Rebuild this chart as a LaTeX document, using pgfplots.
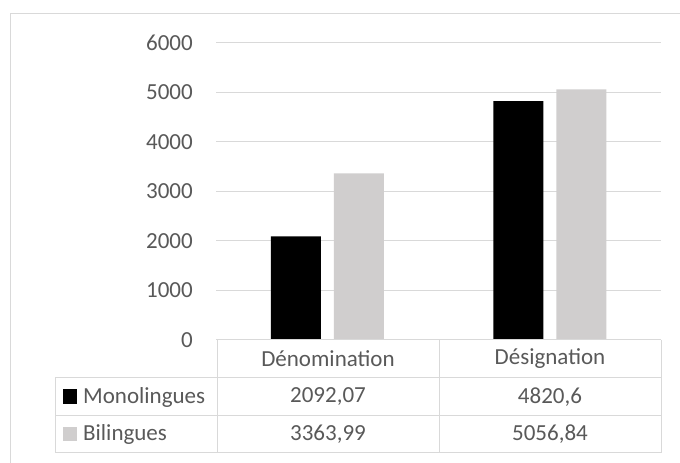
\documentclass[border=0pt]{standalone}
\usepackage{fontspec}
\setmainfont{Carlito}
\usepackage{pgfplots}
\pgfplotsset{compat=1.18}
\definecolor{gridc}{HTML}{D9D9D9}
\definecolor{txt}{HTML}{595959}
\definecolor{lgray}{HTML}{D0CECE}
\newcommand{\ff}{\fontsize{23}{27}\selectfont}
\begin{document}
\begin{tikzpicture}[x=1pt,y=1pt]
\useasboundingbox (0,0) rectangle (680,463);
\fill[white] (0,0) rectangle (680,463);
\draw[gridc, line width=1pt] (10,0) -- (10,449.5) -- (681,449.5);
\begin{axis}[
  at={(216pt,123pt)}, anchor=south west,
  scale only axis, width=445pt, height=297.3pt,
  xmin=-0.5, xmax=1.5, ymin=0, ymax=6000,
  ytick={0,1000,...,6000}, xtick=\empty,
  ymajorgrids, grid style={gridc, line width=1pt},
  axis line style={draw=none}, major tick length=0pt,
  /pgf/number format/.cd, set thousands separator={}, assume math mode=true,
  /pgfplots/.cd,
  yticklabel style={text=txt, font=\ff, anchor=east, inner sep=0pt, xshift=-23pt},
  ybar=13pt, bar width=50pt,
]
\addplot[fill=black, draw=none] coordinates {(0,2092.07) (1,4820.6)};
\addplot[fill=lgray, draw=none] coordinates {(0,3363.99) (1,5056.84)};
\end{axis}
% data table
\draw[gridc, line width=1pt]
  (217,123) -- (661,123)
  (55,85) -- (661,85)
  (55,47) -- (661,47)
  (55,10) -- (661,10)
  (55,85) -- (55,10)
  (217,123) -- (217,10)
  (439,123) -- (439,10)
  (661,123) -- (661,10);
\begin{scope}[every node/.style={text=txt, font=\ff, inner sep=0pt}]
\node at (328,104) {Dénomination};
\node at (550,104) {Désignation};
\node at (328,66) {2092,07};
\node at (550,66) {4820,6};
\node at (328,28.5) {3363,99};
\node at (550,28.5) {5056,84};
\node[anchor=west] at (83,66) {Monolingues};
\node[anchor=west] at (83,28.5) {Bilingues};
\end{scope}
\fill[black] (62.7,59) rectangle (77.3,73.5);
\fill[lgray] (62.7,21.5) rectangle (77.3,36);
\end{tikzpicture}
\end{document}
